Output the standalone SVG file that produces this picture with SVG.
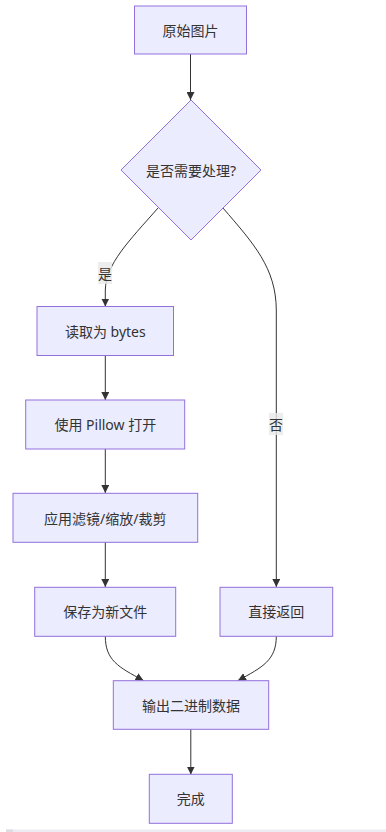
<svg xmlns="http://www.w3.org/2000/svg" width="386" height="832" viewBox="0 0 386 832">
<defs>
<style>
.node rect, .node polygon { fill: #ECECFF; stroke: #9370DB; stroke-width: 1; }
.node text { font-family: "Noto Sans", "Noto Sans CJK SC", sans-serif; font-size: 14px; fill: #333; text-anchor: middle; dominant-baseline: central; }
.edge { fill: none; stroke: #333; stroke-width: 1; marker-end: url(#arrow); }
.elabel rect { fill: #e8e8e8; opacity: 0.8; }
.elabel text { font-family: "Noto Sans", "Noto Sans CJK SC", sans-serif; font-size: 14px; fill: #333; text-anchor: middle; dominant-baseline: central; }
</style>
<marker id="arrow" viewBox="0 0 10 10" refX="10" refY="5" markerUnits="userSpaceOnUse" markerWidth="8" markerHeight="8" orient="auto">
<path d="M0,0 L10,5 L0,10 z" fill="#333"/>
</marker>
</defs>
<rect width="386" height="832" fill="#ffffff"/>
<g id="connectors">
<path class="edge" d="M190.5,54 L190.5,100"/>
<path class="edge" d="M158.3,207.7 C128,242 106,264 105.3,290 L105.3,306.5"/>
<path class="edge" d="M222.7,207.7 C254,244 276,268 276.3,310 L276.3,587"/>
<path class="edge" d="M105.3,355.5 L105.3,400"/>
<path class="edge" d="M105.3,449 L105.3,493"/>
<path class="edge" d="M105.3,542 L105.3,587"/>
<path class="edge" d="M105.3,636 C105.3,660 118,667 143.5,680.5"/>
<path class="edge" d="M276.3,636 C276.3,660 263,667 238,680.5"/>
<path class="edge" d="M190.8,729 L190.8,774.5"/>
<g class="elabel" id="label-yes"><rect x="98" y="262" width="14" height="22"/><text x="105" y="273">是</text></g>
<g class="elabel" id="label-no"><rect x="269" y="413" width="14" height="22"/><text x="276" y="424">否</text></g>
</g>
<g id="n-start" class="node"><rect x="134.5" y="6" width="112" height="48"/><text x="190.5" y="30">原始图片</text></g>
<g id="n-decide" class="node"><polygon points="191,100 261,170 191,240 121,170"/><text x="191" y="170">是否需要处理?</text></g>
<g id="n-read" class="node"><rect x="37" y="306.5" width="136.5" height="49"/><text x="105.3" y="331">读取为 bytes</text></g>
<g id="n-open" class="node"><rect x="25.7" y="400" width="159" height="49"/><text x="105.3" y="424.5">使用 Pillow 打开</text></g>
<g id="n-filter" class="node"><rect x="13" y="493.3" width="184.7" height="49"/><text x="105.3" y="518">应用滤镜/缩放/裁剪</text></g>
<g id="n-save" class="node"><rect x="34.7" y="587.3" width="141" height="49"/><text x="105.3" y="611.8">保存为新文件</text></g>
<g id="n-direct" class="node"><rect x="220" y="587.3" width="112.7" height="49"/><text x="276.3" y="611.8">直接返回</text></g>
<g id="n-output" class="node"><rect x="113.3" y="680.7" width="155.4" height="48.6"/><text x="191" y="705">输出二进制数据</text></g>
<g id="n-done" class="node"><rect x="149.3" y="774.3" width="83" height="49"/><text x="190.8" y="798.8">完成</text></g>
<rect x="6" y="829.5" width="380" height="2.5" fill="#ececf2"/>
<rect x="6" y="829.5" width="7" height="2.5" fill="#dcdce2"/>
</svg>
